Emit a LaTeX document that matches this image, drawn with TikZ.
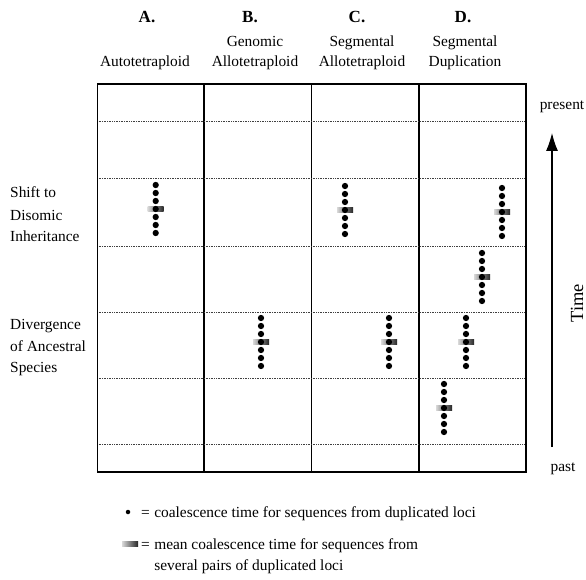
\documentclass[tikz,border=0pt]{standalone}
\usepackage{fontspec}
\setmainfont{Liberation Serif}
\usepackage{tikz}
\usetikzlibrary{arrows.meta,positioning}

\begin{document}
\begin{tikzpicture}[
  x=1pt, y=-1pt,
  lbl/.style={inner sep=0pt, anchor=base, font=\fontsize{15.4}{20}\selectfont},
  rowlbl/.style={lbl, anchor=base west},
  hdr/.style={lbl, font=\fontsize{17}{20}\selectfont\bfseries},
  frame/.style={line width=1.4pt, draw=black},
  sep/.style={line width=1pt, draw=black!75, dash pattern=on 0.8pt off 0.9pt},
  coal/.style={circle, fill=black, inner sep=0pt, minimum size=6.3pt},
  meanbar/.style={rectangle, inner sep=0pt, minimum width=16pt, minimum height=4.5pt, left color=black!15, right color=black!85},
  arrow/.style={-{Latex[length=18pt,width=12pt]}, line width=1.1pt, draw=black}
]
\useasboundingbox (0,0) rectangle (586,580);

% column headers
\node[hdr] (hA) at (147,23) {A.};
\node[hdr] (hB) at (250,23) {B.};
\node[hdr] (hC) at (357,23) {C.};
\node[hdr] (hD) at (463,23) {D.};
\node[lbl] (tA) at (145,67) {Autotetraploid};
\node[lbl] (tB1) at (255,47) {Genomic};
\node[lbl] (tB2) at (255,67) {Allotetraploid};
\node[lbl] (tC1) at (362,47) {Segmental};
\node[lbl] (tC2) at (362,67) {Allotetraploid};
\node[lbl] (tD1) at (465,47) {Segmental};
\node[lbl] (tD2) at (465,67) {Duplication};

% row labels
\node[rowlbl] (shift1) at (10,198) {Shift to};
\node[rowlbl] (shift2) at (10,220) {Disomic};
\node[rowlbl] (shift3) at (10,241) {Inheritance};
\node[rowlbl] (div1) at (10,329) {Divergence};
\node[rowlbl] (div2) at (10,351) {of Ancestral};
\node[rowlbl] (div3) at (10,372) {Species};

% grid
\draw[frame] (97.5,84) rectangle (526,472);
\draw[frame] (204,84) -- (204,472);
\draw[frame] (311.5,84) -- (311.5,472);
\draw[frame] (419,84) -- (419,472);
\foreach \y in {122,179,246,312,378,444}
  \draw[sep] (98.5,\y) -- (525,\y);

% coalescence times, one column per cell
\node[meanbar] (mA2) at (155.7,209) {};
\foreach \k in {1,...,7} \node[coal] (A2-\k) at (155.7,209+8*\k-32) {};
\node[meanbar] (mC2) at (345,210) {};
\foreach \k in {1,...,7} \node[coal] (C2-\k) at (345,210+8*\k-32) {};
\node[meanbar] (mD2) at (502,212) {};
\foreach \k in {1,...,7} \node[coal] (D2-\k) at (502,212+8*\k-32) {};
\node[meanbar] (mD3) at (482,277) {};
\foreach \k in {1,...,7} \node[coal] (D3-\k) at (482,277+8*\k-32) {};
\node[meanbar] (mB5) at (261,342) {};
\foreach \k in {1,...,7} \node[coal] (B5-\k) at (261,342+8*\k-32) {};
\node[meanbar] (mC5) at (389,342) {};
\foreach \k in {1,...,7} \node[coal] (C5-\k) at (389,342+8*\k-32) {};
\node[meanbar] (mD5) at (466,342) {};
\foreach \k in {1,...,7} \node[coal] (D5-\k) at (466,342+8*\k-32) {};
\node[meanbar] (mD6) at (444,408) {};
\foreach \k in {1,...,7} \node[coal] (D6-\k) at (444,408+8*\k-32) {};

% time axis
\node[lbl] (present) at (562,110) {present};
\node[lbl] (past) at (563,471) {past};
\node[lbl, anchor=center, rotate=90, font=\fontsize{18.5}{20}\selectfont] (time) at (577,303) {Time};
\coordinate (tpast) at (552,447);
\coordinate (tnow) at (552,133);
\draw[arrow] (tpast) -- (tnow);

% key
\node[coal, minimum size=4.5pt] (keydot) at (128,512) {};
\node[rowlbl] (keyeq1) at (141,517) {=};
\node[rowlbl, right=4pt of keyeq1.base east, anchor=base west] (key1) {coalescence time for sequences from duplicated loci};
\node[meanbar] (keybar) at (130,544) {};
\node[rowlbl] (keyeq2) at (141,549) {=};
\node[rowlbl, right=4pt of keyeq2.base east, anchor=base west] (key2) {mean coalescence time for sequences from};
\node[rowlbl, below=21pt of key2.base west, anchor=base west] (key3) {several pairs of duplicated loci};
\end{tikzpicture}
\end{document}
